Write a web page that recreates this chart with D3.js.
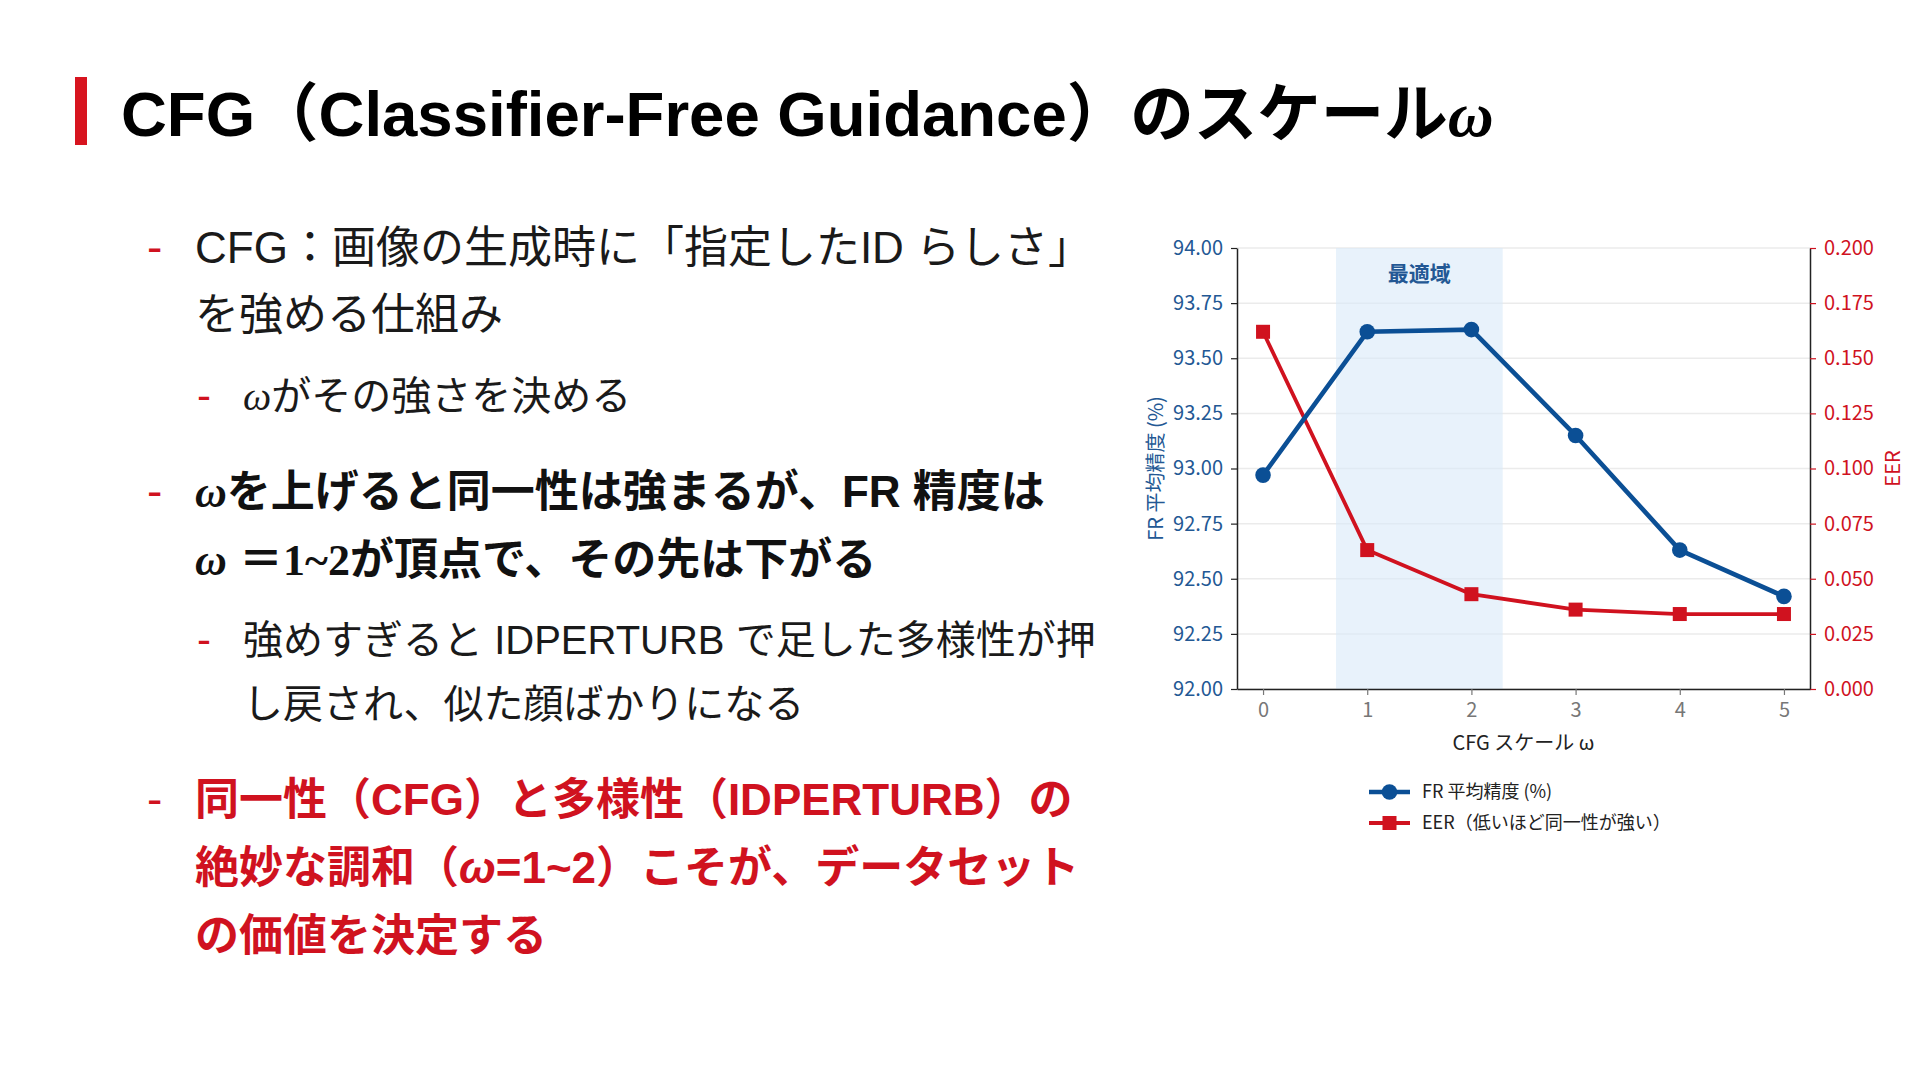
<!DOCTYPE html>
<html>
<head>
<meta charset="utf-8">
<script src="https://d3js.org/d3.v7.min.js"></script>
<style>
  body { margin: 0; background: #fff; }
  .axis text { font-family: "Noto Sans CJK JP", "Noto Sans", sans-serif; font-size: 20px; }
</style>
</head>
<body>
<svg id="slide" width="1920" height="1082"></svg>
<script>
// ---- chart data ----
var cfgScale = [0, 1, 2, 3, 4, 5];
var frAccuracy = [92.97, 93.62, 93.63, 93.15, 92.63, 92.42];
var eerValues = [0.162, 0.063, 0.043, 0.036, 0.034, 0.034];
var frTicks = [92.00, 92.25, 92.50, 92.75, 93.00, 93.25, 93.50, 93.75, 94.00];
var eerTicks = [0.000, 0.025, 0.050, 0.075, 0.100, 0.125, 0.150, 0.175, 0.200];
var bestBand = [0.7, 2.3];
var legendLabels = ["FR 平均精度 (%)", "EER（低いほど同一性が強い）"];

// ---- slide text ----
var titleParts = [["CFG（Classifier-Free Guidance）のスケール", "t"], ["ω", "tw"]];
var bullets = [
  { level: 0, color: "#1a1a1a", weight: "normal", lines: [
      [["CFG", "s"], ["：画像の生成時に「指定した", "j"], ["ID", "s"], [" らしさ」", "j"]],
      [["を強める仕組み", "j"]] ] },
  { level: 1, color: "#1a1a1a", weight: "normal", lines: [
      [["ω", "wi"], ["がその強さを決める", "j"]] ] },
  { level: 0, color: "#111", weight: "bold", lines: [
      [["ω", "wi"], ["を上げると同一性は強まるが、", "j"], ["FR", "s"], [" 精度は", "j"]],
      [["ω", "wi"], [" ＝", "j"], ["1~2", "serif"], ["が頂点で、その先は下がる", "j"]] ] },
  { level: 1, color: "#1a1a1a", weight: "normal", lines: [
      [["強めすぎると ", "j"], ["IDPERTURB", "s"], [" で足した多様性が押", "j"]],
      [["し戻され、似た顔ばかりになる", "j"]] ] },
  { level: 0, color: "#d0121f", weight: "bold", lines: [
      [["同一性（", "j"], ["CFG", "s"], ["）と多様性（", "j"], ["IDPERTURB", "s"], ["）の", "j"]],
      [["絶妙な調和（", "j"], ["ω", "si"], ["=1~2", "s"], ["）こそが、データセット", "j"]],
      [["の価値を決定する", "j"]] ] }
];
var bulletBaselines = [[263, 330], [410], [507, 575], [654, 718], [815, 883, 951]];

var RED = "#d0121f", BLUE = "#0b4f95", BLUE_TXT = "#235894";
var svg = d3.select("#slide");

function fam(kind) {
  if (kind == "s" || kind == "si") return "'Liberation Sans', Arial, 'Noto Sans CJK JP', sans-serif";
  if (kind == "wi" || kind == "tw" || kind == "serif") return "'Liberation Serif', 'DejaVu Serif', serif";
  return "'Liberation Sans', 'Noto Sans CJK JP', sans-serif";
}
function addParts(textSel, parts) {
  parts.forEach(function (p) {
    var ts = textSel.append("tspan").text(p[0]).attr("font-family", fam(p[1]));
    if (p[1] == "wi" || p[1] == "si" || p[1] == "tw") ts.attr("font-style", "italic");
  });
}

// title
svg.append("rect").attr("x", 75).attr("y", 77).attr("width", 12).attr("height", 68).attr("fill", "#d7141f");
var title = svg.append("text").attr("x", 121).attr("y", 136)
  .attr("font-size", 63.5).attr("font-weight", "bold").attr("fill", "#000");
addParts(title, titleParts);

// bullets
bullets.forEach(function (b, i) {
  var fs = b.level == 0 ? 44 : 40;
  var dashX = b.level == 0 ? 147 : 197;
  var textX = b.level == 0 ? 195 : 243;
  svg.append("text").attr("x", dashX).attr("y", bulletBaselines[i][0])
    .attr("font-family", fam("s")).attr("font-size", fs + 2).attr("fill", RED).text("-");
  b.lines.forEach(function (line, j) {
    var t = svg.append("text").attr("x", textX).attr("y", bulletBaselines[i][j])
      .attr("font-size", fs).attr("font-weight", b.weight).attr("fill", b.color);
    addParts(t, line);
  });
});

// ---- chart ----
var plot = { left: 1237, right: 1810, top: 248, bottom: 689 };
var x = d3.scaleLinear().domain([-0.25, 5.25]).range([plot.left, plot.right]);
var yL = d3.scaleLinear().domain([92, 94]).range([plot.bottom, plot.top]);
var yR = d3.scaleLinear().domain([0, 0.2]).range([plot.bottom, plot.top]);

var chart = svg.append("g");

// grid
chart.selectAll("line.grid").data(frTicks).enter().append("line")
  .attr("class", "grid")
  .attr("x1", plot.left).attr("x2", plot.right)
  .attr("y1", function (d) { return yL(d); }).attr("y2", function (d) { return yL(d); })
  .attr("stroke", "#ebebeb").attr("stroke-width", 1.5);

// optimal band
chart.append("rect")
  .attr("x", x(bestBand[0])).attr("width", x(bestBand[1]) - x(bestBand[0]))
  .attr("y", plot.top).attr("height", plot.bottom - plot.top)
  .attr("fill", "#d9eaf8").attr("opacity", 0.6);
chart.append("text")
  .attr("x", x((bestBand[0] + bestBand[1]) / 2)).attr("y", 281)
  .attr("text-anchor", "middle").attr("font-family", "'Noto Sans CJK JP', sans-serif")
  .attr("font-size", 21).attr("font-weight", "bold").attr("fill", BLUE_TXT).text("最適域");

// axes
var axL = chart.append("g").attr("class", "axis").attr("transform", "translate(" + plot.left + ",0)")
  .call(d3.axisLeft(yL).tickValues(frTicks).tickFormat(d3.format(".2f")).tickSize(6).tickSizeOuter(0).tickPadding(8));
axL.select(".domain").attr("stroke", "#222").attr("stroke-width", 1.5);
axL.selectAll(".tick line").attr("stroke", "#222").attr("stroke-width", 1.2);
axL.selectAll(".tick text").attr("fill", BLUE_TXT);

var axR = chart.append("g").attr("class", "axis").attr("transform", "translate(" + plot.right + ",0)")
  .call(d3.axisRight(yR).tickValues(eerTicks).tickFormat(d3.format(".3f")).tickSize(6).tickSizeOuter(0).tickPadding(8));
axR.select(".domain").attr("stroke", "#222").attr("stroke-width", 1.5);
axR.selectAll(".tick line").attr("stroke", RED).attr("stroke-width", 1.2);
axR.selectAll(".tick text").attr("fill", RED);

var axB = chart.append("g").attr("class", "axis").attr("transform", "translate(0," + plot.bottom + ")")
  .call(d3.axisBottom(x).tickValues(cfgScale).tickFormat(d3.format("d")).tickSize(6).tickSizeOuter(0).tickPadding(8));
axB.select(".domain").attr("stroke", "#222").attr("stroke-width", 1.5);
axB.selectAll(".tick line").attr("stroke", "#777").attr("stroke-width", 1.2);
axB.selectAll(".tick text").attr("fill", "#777");

// axis titles
chart.append("text").attr("transform", "translate(1163," + (plot.top + plot.bottom) / 2 + ") rotate(-90)")
  .attr("text-anchor", "middle").attr("font-family", "'Noto Sans CJK JP', sans-serif")
  .attr("font-size", 20).attr("fill", BLUE_TXT).text("FR 平均精度 (%)");
chart.append("text").attr("transform", "translate(1900," + (plot.top + plot.bottom) / 2 + ") rotate(-90)")
  .attr("text-anchor", "middle").attr("font-family", "'Noto Sans CJK JP', sans-serif")
  .attr("font-size", 20).attr("fill", RED).text("EER");
chart.append("text").attr("x", (plot.left + plot.right) / 2).attr("y", 750)
  .attr("text-anchor", "middle").attr("font-family", "'Noto Sans CJK JP', sans-serif")
  .attr("font-size", 20).attr("fill", "#222").text("CFG スケール ω");

// EER series
var eerLine = d3.line().x(function (d, i) { return x(cfgScale[i]); }).y(function (d) { return yR(d); });
chart.append("path").datum(eerValues).attr("d", eerLine)
  .attr("fill", "none").attr("stroke", RED).attr("stroke-width", 3.8).attr("stroke-linejoin", "round");
chart.selectAll("rect.eer").data(eerValues).enter().append("rect")
  .attr("class", "eer")
  .attr("x", function (d, i) { return x(cfgScale[i]) - 7; })
  .attr("y", function (d) { return yR(d) - 7; })
  .attr("width", 14).attr("height", 14).attr("fill", RED);

// FR series
var frLine = d3.line().x(function (d, i) { return x(cfgScale[i]); }).y(function (d) { return yL(d); });
chart.append("path").datum(frAccuracy).attr("d", frLine)
  .attr("fill", "none").attr("stroke", BLUE).attr("stroke-width", 4.6).attr("stroke-linejoin", "round");
chart.selectAll("circle.fr").data(frAccuracy).enter().append("circle")
  .attr("class", "fr")
  .attr("cx", function (d, i) { return x(cfgScale[i]); })
  .attr("cy", function (d) { return yL(d); })
  .attr("r", 7.8).attr("fill", BLUE);

// legend
var legend = chart.append("g").attr("transform", "translate(1369,792)");
legendLabels.forEach(function (lab, i) {
  var g = legend.append("g").attr("transform", "translate(0," + i * 31 + ")");
  var col = i == 0 ? BLUE : RED;
  g.append("line").attr("x1", 0).attr("x2", 41).attr("stroke", col).attr("stroke-width", i == 0 ? 4.6 : 3.8);
  if (i == 0) g.append("circle").attr("cx", 20.5).attr("r", 7.8).attr("fill", col);
  else g.append("rect").attr("x", 13.5).attr("y", -7).attr("width", 14).attr("height", 14).attr("fill", col);
  g.append("text").attr("x", 53).attr("y", 6).attr("font-family", "'Noto Sans CJK JP', sans-serif")
    .attr("font-size", 18).attr("fill", "#222").text(lab);
});
</script>
</body>
</html>
